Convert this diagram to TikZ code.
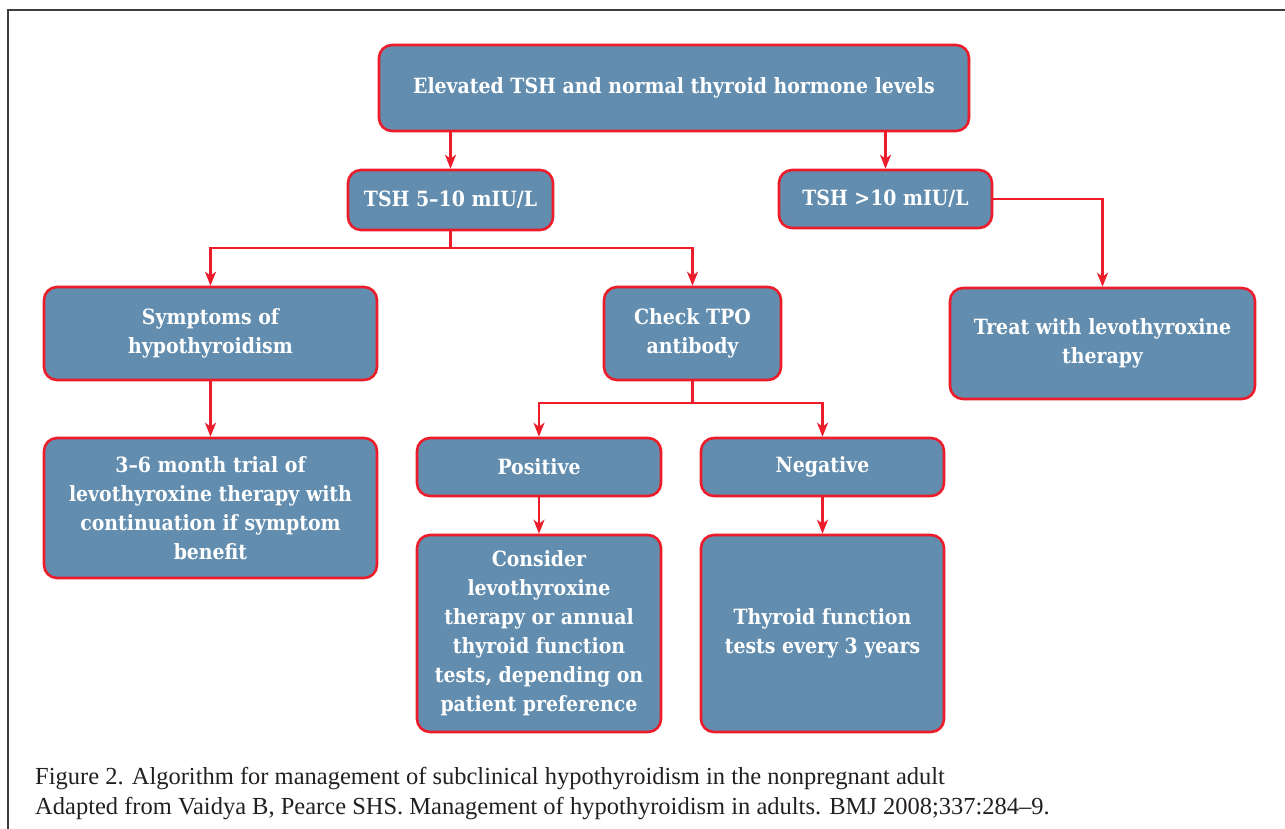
\documentclass[tikz,border=0pt]{standalone}
\usepackage{fontspec}
\setmainfont{Liberation Serif}
\newfontfamily\boxfont[Ligatures=TeX]{DejaVu Serif Condensed}
\usetikzlibrary{arrows.meta}

\definecolor{boxblue}{HTML}{628DAE}
\definecolor{boxred}{HTML}{EC1C2A}
\definecolor{framegray}{HTML}{3E3E3E}
\definecolor{captext}{HTML}{231F20}

\tikzset{
  flowbox/.style={draw=boxred, line width=2.6pt, fill=boxblue, rounded corners=13pt,
    text=white, align=center, inner sep=0pt,
    font=\boxfont\bfseries\fontsize{21}{29}\selectfont},
  flowarrow/.style={draw=boxred, line width=2.2pt,
    -{Stealth[length=14pt, width=11pt, inset=4pt]}},
  flowline/.style={draw=boxred, line width=2.2pt},
  captionline/.style={anchor=west, inner sep=0pt, text=captext,
    font=\fontsize{24.5}{28}\selectfont}
}

\begin{document}
\begin{tikzpicture}[x=1pt, y=-1pt]

  % Picture size and outer frame
  \useasboundingbox (0,0) rectangle (1285,828);
  \draw[framegray, line width=1.6pt] (8,10) rectangle (1320,860);

  % Top level
  \node[flowbox, minimum width=590pt, minimum height=86pt] (elevated) at (674,88)
    {Elevated TSH and normal thyroid hormone levels};

  % Second level
  \node[flowbox, minimum width=205pt, minimum height=60pt] (tshlow) at (450.5,200)
    {TSH 5--10 mIU/L};
  \node[flowbox, minimum width=213pt, minimum height=58pt] (tshhigh) at (885.5,199)
    {TSH >10 mIU/L};

  % Third level
  \node[flowbox, minimum width=333pt, minimum height=93pt] (symptoms) at (210.5,333.5)
    {Symptoms of\\hypothyroidism};
  \node[flowbox, minimum width=177pt, minimum height=93pt] (tpo) at (692.5,333.5)
    {Check TPO\\antibody};
  \node[flowbox, minimum width=305pt, minimum height=111pt] (treat) at (1102.5,343.5)
    {Treat with levothyroxine\\therapy};

  % Fourth level
  \node[flowbox, minimum width=333pt, minimum height=140pt] (trial) at (210.5,508)
    {3--6 month trial of\\levothyroxine therapy with\\continuation if symptom\\benefit};
  \node[flowbox, minimum width=244pt, minimum height=58pt] (positive) at (539,467)
    {Positive};
  \node[flowbox, minimum width=243pt, minimum height=58pt] (negative) at (822.5,467)
    {Negative};

  % Bottom level
  \node[flowbox, minimum width=244pt, minimum height=197pt] (consider) at (539,633.5)
    {Consider\\levothyroxine\\therapy or annual\\thyroid function\\tests, depending on\\patient preference};
  \node[flowbox, minimum width=243pt, minimum height=197pt] (tests) at (822.5,633.5)
    {Thyroid function\\tests every 3 years};

  % Branch points
  \coordinate (splitlow) at (450.5,248);
  \coordinate (splittpo) at (692.5,403);

  % Connectors
  \draw[flowarrow] (elevated.south -| tshlow.north) -- (tshlow.north);
  \draw[flowarrow] (elevated.south -| tshhigh.north) -- (tshhigh.north);
  \draw[flowline] (tshlow.south) -- (splitlow);
  \draw[flowarrow] (splitlow) -| (symptoms.north);
  \draw[flowarrow] (splitlow) -| (tpo.north);
  \draw[flowarrow] (tshhigh.east) -| (treat.north);
  \draw[flowarrow] (symptoms.south) -- (trial.north);
  \draw[flowline] (tpo.south) -- (splittpo);
  \draw[flowarrow] (splittpo) -| (positive.north);
  \draw[flowarrow] (splittpo) -| (negative.north);
  \draw[flowarrow] (positive.south) -- (consider.north);
  \draw[flowarrow] (negative.south) -- (tests.north);

  % Caption
  \node[captionline] (caption) at (35,779)
    {Figure 2. Algorithm for management of subclinical hypothyroidism in the nonpregnant adult};
  \node[captionline] (source) at (35,809)
    {Adapted from Vaidya B, Pearce SHS. Management of hypothyroidism in adults. BMJ 2008;337:284--9.};

\end{tikzpicture}
\end{document}
